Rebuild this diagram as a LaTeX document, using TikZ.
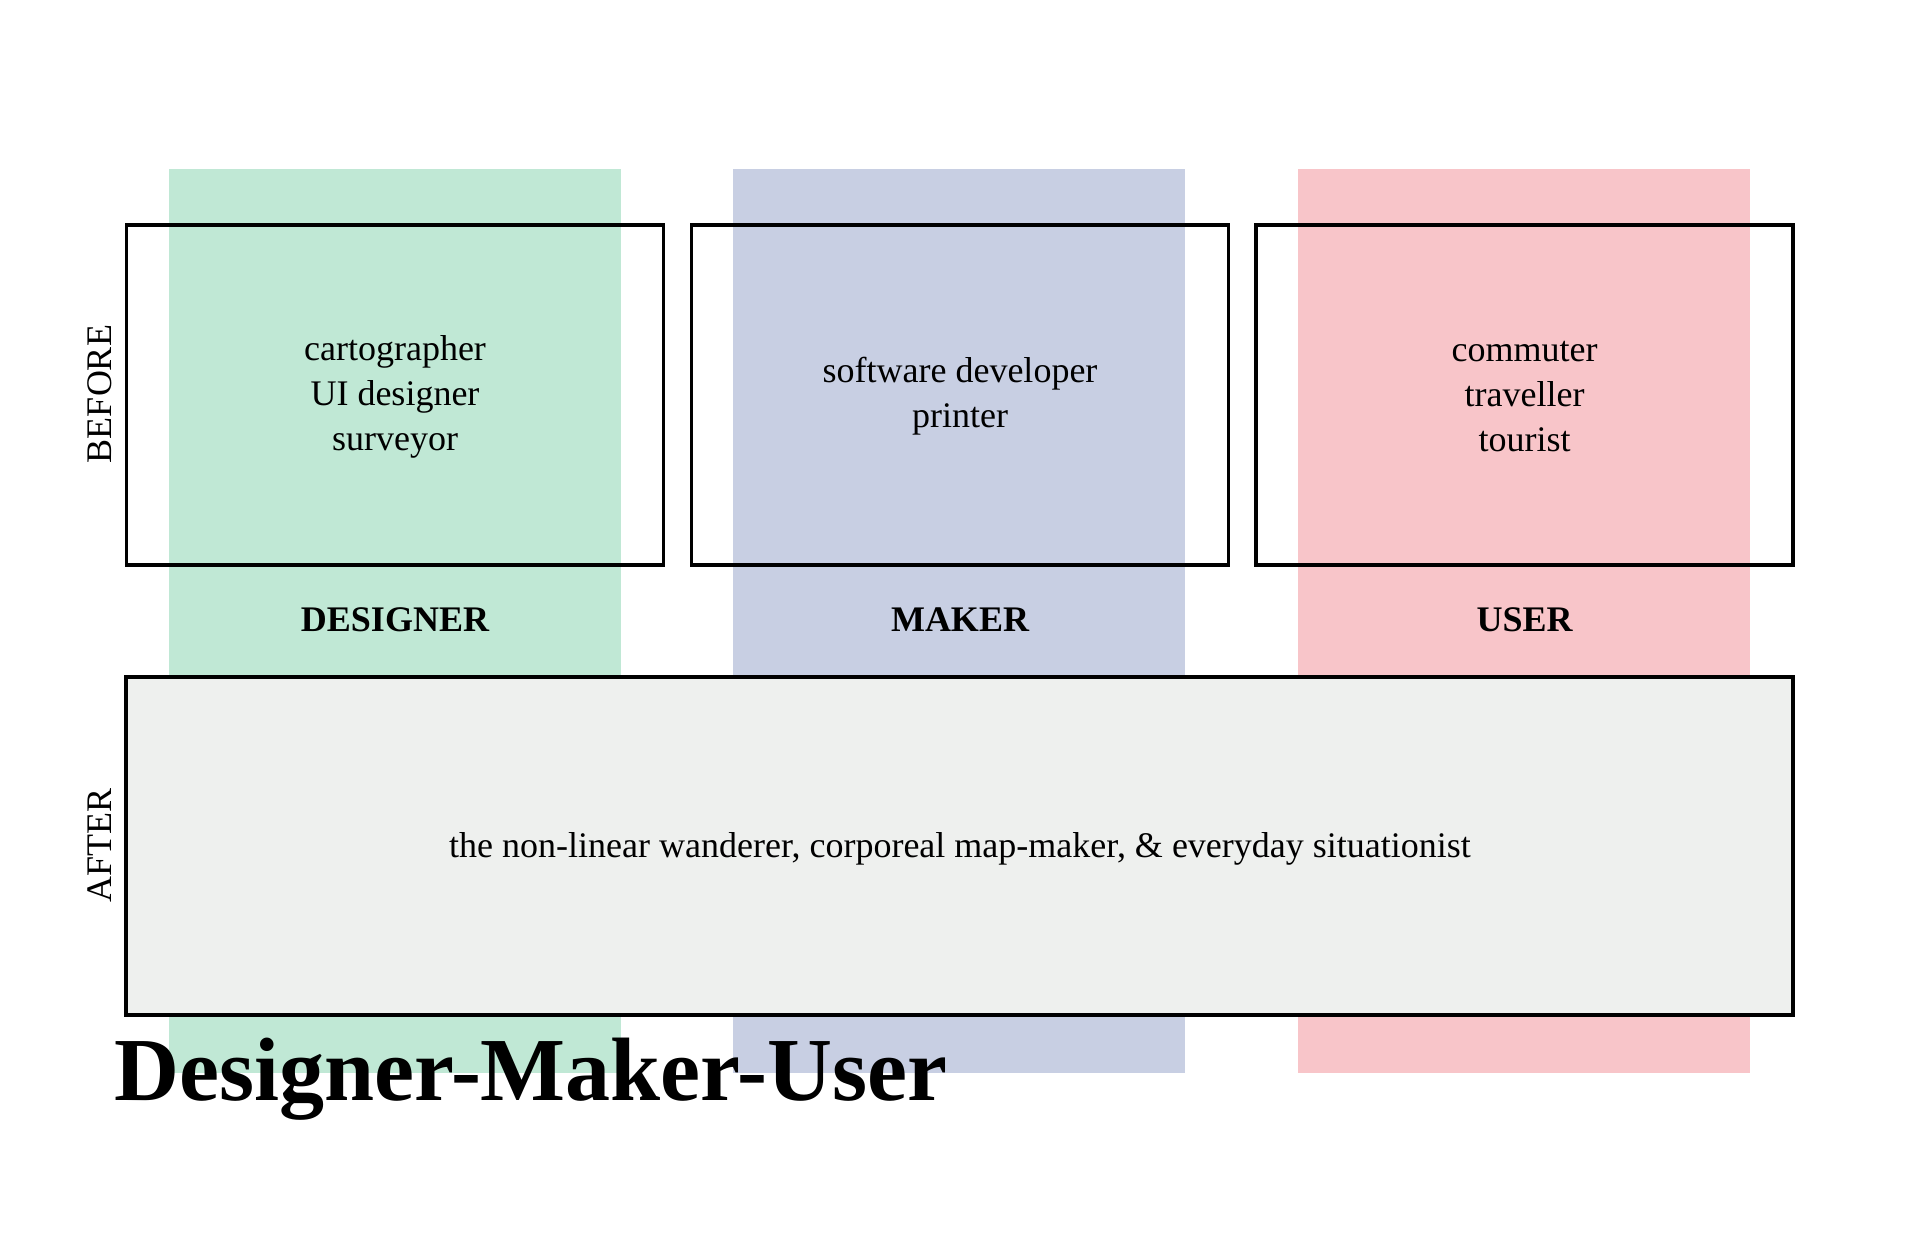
\documentclass[tikz,border=0pt]{standalone}
\usepackage{fontspec}
\setmainfont{Liberation Serif}
\definecolor{cgreen}{HTML}{C0E8D5}
\definecolor{cblue}{HTML}{C8CFE3}
\definecolor{cred}{HTML}{F8C5C9}
\definecolor{cafter}{HTML}{EEF0EE}
\begin{document}
\begin{tikzpicture}[x=0.5pt,y=-0.5pt,
  colbox/.style={draw=none,inner sep=0,outer sep=0,minimum width=226pt,minimum height=452pt},
  beforebox/.style={draw=black,line width=1.6pt,inner sep=0,minimum width=268.5pt,minimum height=170pt},
  afterbox/.style={draw=black,line width=1.6pt,fill=cafter,inner sep=0,minimum width=833.5pt,minimum height=169pt},
  roles/.style={align=center,font=\fontsize{18}{22.5}\selectfont},
  colname/.style={font=\bfseries\fontsize{18}{22}\selectfont},
  phase/.style={rotate=90,font=\fontsize{18}{22}\selectfont},
  titletext/.style={font=\bfseries\fontsize{45}{50}\selectfont,inner sep=0}]
\useasboundingbox (0,0) rectangle (1920,1242);
\fill[white] (0,0) rectangle (1920,1242);
% columns
\node[colbox,fill=cgreen] (gcol) at (395,621) {};
\node[colbox,fill=cblue] (bcol) at (959,621) {};
\node[colbox,fill=cred] (rcol) at (1524,621) {};
% before boxes
\node[beforebox] (b1) at (395,395) {};
\node[beforebox] (b2) at (960,395) {};
\node[beforebox] (b3) at (1524.5,395) {};
\node[roles] (t1) at (395,397) {cartographer\\UI designer\\surveyor};
\node[roles] (t2) at (960,396) {software developer\\printer};
\node[roles] (t3) at (1524.5,397) {commuter\\traveller\\tourist};
% column names
\node[colname] (n1) at (395,620) {DESIGNER};
\node[colname] (n2) at (960,620) {MAKER};
\node[colname] (n3) at (1524.5,620) {USER};
% after box
\node[afterbox] (after) at (959.5,846) {};
\node[roles] (at) at (960,849) {the non-linear wanderer, corporeal map-maker, \& everyday situationist};
% phase labels
\node[phase] (before) at (100,394) {BEFORE};
\node[phase] (afterlab) at (100,845) {AFTER};
% title
\node[titletext,anchor=base west] (title) at (114,1100) {Designer-Maker-User};
\end{tikzpicture}
\end{document}
